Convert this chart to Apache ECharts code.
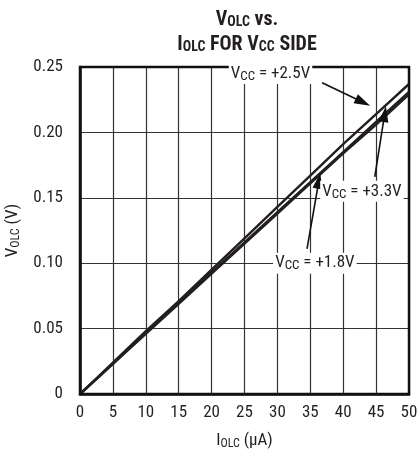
<!DOCTYPE html>
<html><head><meta charset="utf-8">
<script src="https://cdn.jsdelivr.net/npm/echarts@6/dist/echarts.min.js"></script>
<style>html,body{margin:0;padding:0;background:#fff}#c{width:417px;height:456px}</style>
</head><body><div id="c"></div>
<script>
var xValues = [0,5,10,15,20,25,30,35,40,45,50];
var vcc25 = [0,0.024,0.048,0.071,0.095,0.119,0.143,0.167,0.191,0.214,0.237];
var vcc33 = [0,0.023,0.047,0.070,0.093,0.116,0.139,0.162,0.185,0.208,0.231];
var vcc18 = [0,0.023,0.046,0.069,0.092,0.115,0.138,0.161,0.184,0.206,0.229];
var xTicks = ['0','5','10','15','20','25','30','35','40','45','50'];
var yTicks = ['0','0.05','0.10','0.15','0.20','0.25'];
var notes = [
  {v:'+2.5V', at:[35.3,0.245], align:'right', from:[36.8,0.238], to:[43.0,0.223]},
  {v:'+3.3V', at:[36.5,0.155], align:'left', from:[44.8,0.166], to:[46.3,0.214]},
  {v:'+1.8V', at:[35.7,0.100], align:'center', from:[34.5,0.111], to:[36.3,0.163]}
];
var F = '"Liberation Sans Narrow","Roboto Condensed","Liberation Sans",Arial,sans-serif';
function pair(arr){ return xValues.map(function(x,i){return [x,arr[i]];}); }
var lineStyle = {color:'#231f20', width:2.4};
var chart = echarts.init(document.getElementById('c'), null, {renderer:'canvas'});
var markLines = notes.map(function(n){
  return [{coord:n.from, symbol:'none'},{coord:n.to, symbol:'triangle'}];
});
chart.setOption({
  animation:false,
  backgroundColor:'#fff',
  title:{
    text:'{b|V}{s|OLC}{b| vs.}\n{b|I}{s|OLC}{b| FOR V}{s|CC}{b| SIDE}',
    left:242, top:2, textAlign:'center',
    textStyle:{rich:{
      b:{fontFamily:F, fontWeight:'bold', fontSize:20, color:'#231f20', lineHeight:25},
      s:{fontFamily:F, fontWeight:'bold', fontSize:14, color:'#231f20', lineHeight:25, padding:[6,0,0,0]}
    }}
  },
  grid:{left:80, right:8, top:67, bottom:62, containLabel:false, outerBoundsMode:'none'},
  xAxis:{
    type:'value', min:0, max:50, interval:5,
    name:'{n|I}{s|OLC}{n| (µA)}', nameLocation:'middle', nameGap:37,
    nameTextStyle:{rich:{n:{fontFamily:F,fontSize:17,color:'#231f20'}, s:{fontFamily:F,fontSize:12,color:'#231f20',padding:[7,0,0,0]}}},
    axisLine:{show:true, lineStyle:{color:'#111', width:2.5}},
    axisTick:{show:false},
    axisLabel:{fontFamily:F, fontSize:17, color:'#231f20', margin:10, formatter:function(v){return xTicks[Math.round(v/5)];}},
    splitLine:{show:true, lineStyle:{color:'#333', width:1.2}}
  },
  yAxis:{
    type:'value', min:0, max:0.25, interval:0.05,
    name:'{n|V}{s|OLC}{n| (V)}', nameLocation:'middle', nameGap:47, nameRotate:90,
    nameTextStyle:{rich:{n:{fontFamily:F,fontSize:17,color:'#231f20'}, s:{fontFamily:F,fontSize:12,color:'#231f20',padding:[7,0,0,0]}}},
    axisLine:{show:true, lineStyle:{color:'#111', width:2.5}},
    axisTick:{show:false},
    axisLabel:{fontFamily:F, fontSize:17, color:'#231f20', margin:17, formatter:function(v){return yTicks[Math.round(v/0.05)];}},
    splitLine:{show:true, lineStyle:{color:'#333', width:1.2}}
  },
  series:[
    {type:'line', name:'2.5', data:pair(vcc25), symbol:'none', lineStyle:lineStyle, z:3,
      markLine:{silent:true, animation:false, symbolSize:[10,16], label:{show:false},
        lineStyle:{color:'#111', width:1.6, type:'solid'}, data:markLines}},
    {type:'line', name:'3.3', data:pair(vcc33), symbol:'none', lineStyle:lineStyle, z:3},
    {type:'line', name:'1.8', data:pair(vcc18), symbol:'none', lineStyle:lineStyle, z:3}
  ]
});
function px(p){ return chart.convertToPixel({gridIndex:0}, p); }
var g = [];
var tl = px([0,0.25]), br = px([50,0]);
g.push({type:'rect', shape:{x:tl[0], y:tl[1], width:br[0]-tl[0], height:br[1]-tl[1]}, style:{fill:'none', stroke:'#111', lineWidth:2.5}, z:10});
notes.forEach(function(n){
  var p = px(n.at);
  g.push({type:'text', x:p[0], y:p[1], z:20, style:{
    text:'{n|V}{s|CC}{n| = '+n.v+'}', align:n.align, verticalAlign:'middle',
    backgroundColor:'#fff', padding:[1,2,1,2],
    rich:{n:{fontFamily:F,fontSize:17,fill:'#231f20'}, s:{fontFamily:F,fontSize:13,fill:'#231f20',padding:[6,0,0,0]}}
  }});
});
g.push({type:'text', x:417, y:70, rotation:-Math.PI/2, z:20, style:{text:'MAX13000E toc05', fontSize:8, fontFamily:F, fill:'#555', align:'left', verticalAlign:'bottom'}});
chart.setOption({graphic:g});
</script>
</body></html>
